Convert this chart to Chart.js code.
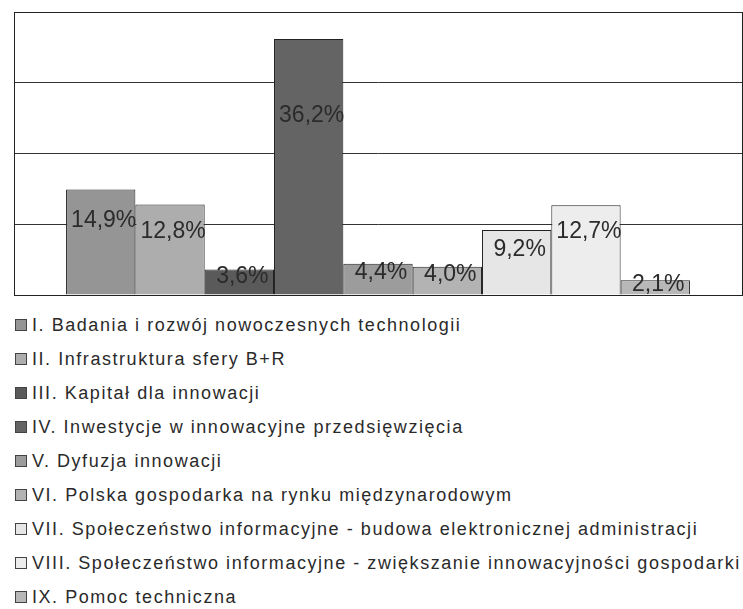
<!DOCTYPE html>
<html>
<head>
<meta charset="utf-8">
<script src="https://cdn.jsdelivr.net/npm/chart.js@4"></script>
<style>
  body { margin: 0; background: #fff; width: 743px; height: 609px; overflow: hidden; }
  #wrap { width: 743px; height: 300px; }
  #legend { list-style: none; margin: 8px 0 0 0; padding: 0; font-family: "Liberation Sans", Arial, sans-serif; font-size: 18px; color: #2a2a2a; letter-spacing: 1.55px; }
  #legend li { height: 34px; line-height: 34px; white-space: nowrap; display: flex; align-items: center; }
  #legend .box { width: 10px; height: 10px; border: 1px solid #444; margin-left: 15px; margin-right: 5px; flex: none; }
</style>
</head>
<body>
<div id="wrap"><canvas id="barChart" width="743" height="300"></canvas></div>
<ul id="legend"></ul>
<script>
const categories = [
    'I. Badania i rozwój nowoczesnych technologii',
    'II. Infrastruktura sfery B+R',
    'III. Kapitał dla innowacji',
    'IV. Inwestycje w innowacyjne przedsięwzięcia',
    'V. Dyfuzja innowacji',
    'VI. Polska gospodarka na rynku międzynarodowym',
    'VII. Społeczeństwo informacyjne - budowa elektronicznej administracji',
    'VIII. Społeczeństwo informacyjne - zwiększanie innowacyjności gospodarki',
    'IX. Pomoc techniczna'
];
const shares = [14.9, 12.8, 3.6, 36.2, 4.4, 4.0, 9.2, 12.7, 2.1];
const yTicks = [0, 10, 20, 30, 40];

const colors = ['#959595', '#adadad', '#5a5a5a', '#646464', '#9c9c9c', '#b3b3b3', '#e6e6e6', '#ededed', '#b8b8b8'];

const ctx = document.getElementById('barChart').getContext('2d');

// podpisy wartości w słupkach
const valueLabels = {
    id: 'valueLabels',
    afterDatasetsDraw(chart) {
        const c = chart.ctx;
        c.save();
        c.font = '23px "Liberation Sans", Arial, sans-serif';
        c.fillStyle = '#2b2b2b';
        c.textAlign = 'center';
        c.textBaseline = 'middle';
        chart.data.datasets.forEach((ds, i) => {
            const bar = chart.getDatasetMeta(i).data[0];
            const h = bar.base - bar.y;
            const y = Math.min(bar.y + h * 0.3, bar.base - 7);
            const txt = ds.data[0].toFixed(1).replace('.', ',') + '%';
            c.fillText(txt, bar.x + 3, y);
        });
        c.restore();
    }
};

// ramka wokół obszaru wykresu
const frame = {
    id: 'frame',
    afterDraw(chart) {
        const a = chart.chartArea;
        const c = chart.ctx;
        c.save();
        c.strokeStyle = '#222';
        c.lineWidth = 1;
        c.strokeRect(a.left + 0.5, a.top + 0.5, a.right - a.left, a.bottom - a.top);
        c.restore();
    }
};

const chart = new Chart(ctx, {
    type: 'bar',
    data: {
        labels: [''],
        datasets: categories.map((name, i) => ({
            label: name,
            data: [shares[i]],
            backgroundColor: colors[i],
            borderColor: '#222',
            borderWidth: 1,
            barPercentage: 1,
            categoryPercentage: 0.857
        }))
    },
    options: {
        responsive: false,
        animation: false,
        layout: { padding: { left: 14, top: 12, right: 1, bottom: 5 } },
        scales: {
            x: { display: false },
            y: {
                min: yTicks[0],
                max: yTicks[yTicks.length - 1],
                afterBuildTicks: axis => { axis.ticks = yTicks.map(v => ({ value: v })); },
                ticks: { display: false },
                grid: { color: '#333', drawTicks: false, lineWidth: 1 },
                border: { display: true, color: '#222' }
            }
        },
        plugins: {
            legend: { display: false },
            tooltip: { enabled: false }
        }
    },
    plugins: [valueLabels, frame]
});

// legenda w formie listy pod wykresem
const legend = document.getElementById('legend');
categories.forEach((name, i) => {
    const li = document.createElement('li');
    const box = document.createElement('span');
    box.className = 'box';
    box.style.background = colors[i];
    li.appendChild(box);
    li.appendChild(document.createTextNode(name));
    legend.appendChild(li);
});
</script>
</body>
</html>
